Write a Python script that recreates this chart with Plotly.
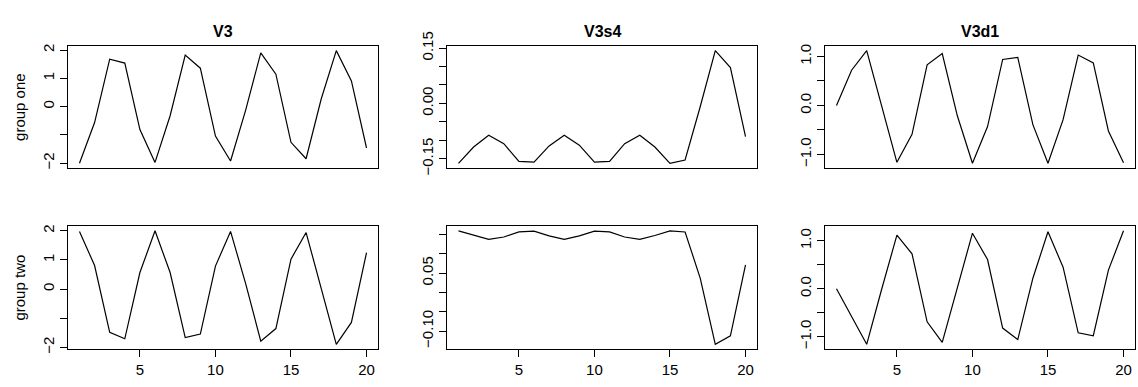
import plotly.graph_objects as go

x = list(range(1, 21))

v3_one = [-2.0, -0.56, 1.68, 1.54, -0.81, -1.97, -0.32, 1.82, 1.36, -1.04,
          -1.92, -0.12, 1.90, 1.15, -1.26, -1.84, 0.27, 1.98, 0.91, -1.46]
v3_two = [1.98, 0.81, -1.48, -1.70, 0.57, 2.0, 0.57, -1.66, -1.54, 0.79,
          1.98, 0.19, -1.78, -1.35, 1.03, 1.94, 0.03, -1.89, -1.14, 1.25]
v3s4_one = [-0.162, -0.118, -0.086, -0.109, -0.157, -0.159, -0.115, -0.086, -0.113, -0.159,
            -0.157, -0.109, -0.086, -0.118, -0.162, -0.153, -0.009, 0.143, 0.097, -0.090]
v3s4_two = [0.159, 0.147, 0.137, 0.143, 0.156, 0.158, 0.146, 0.137, 0.146, 0.158,
            0.156, 0.143, 0.137, 0.147, 0.159, 0.156, 0.037, -0.134, -0.112, 0.071]
v3d1_one = [0.0, 0.72, 1.12, -0.02, -1.16, -0.59, 0.83, 1.06, -0.21, -1.18,
            -0.43, 0.94, 0.98, -0.39, -1.18, -0.29, 1.03, 0.87, -0.52, -1.17]
v3d1_two = [0.0, -0.57, -1.16, 0.0, 1.12, 0.73, -0.69, -1.12, 0.02, 1.16,
            0.61, -0.82, -1.06, 0.22, 1.19, 0.45, -0.92, -0.98, 0.39, 1.21]

col_titles = ["V3", "V3s4", "V3d1"]
row_titles = ["group one", "group two"]

x_ticks = [5, 10, 15, 20]
x_ticktext = ["5", "10", "15", "20"]

# y ticks per panel (row, col): values and shown labels
y_ticks = {
    (0, 0): ([-2, -1, 0, 1, 2], ["−2", "", "0", "1", "2"]),
    (1, 0): ([-2, -1, 0, 1, 2], ["−2", "", "0", "1", "2"]),
    (0, 1): ([-0.15, -0.10, -0.05, 0.0, 0.05, 0.10, 0.15], ["−0.15", "", "", "0.00", "", "", "0.15"]),
    (1, 1): ([-0.10, -0.05, 0.0, 0.05, 0.10, 0.15], ["−0.10", "", "", "0.05", "", ""]),
    (0, 2): ([-1.0, -0.5, 0.0, 0.5, 1.0], ["−1.0", "", "0.0", "", "1.0"]),
    (1, 2): ([-1.0, -0.5, 0.0, 0.5, 1.0], ["−1.0", "", "0.0", "", "1.0"]),
}

series = {
    (0, 0): v3_one, (0, 1): v3s4_one, (0, 2): v3d1_one,
    (1, 0): v3_two, (1, 1): v3s4_two, (1, 2): v3d1_two,
}

W, H = 1138, 387
col_px = [(68, 378), (447, 757), (825, 1135)]
row_px = [(33, 162), (224, 354)]  # top, bottom in pixels from top

FONT = "Liberation Sans, Arial, Helvetica, sans-serif"
TICK = 15

fig = go.Figure()
layout = dict(
    width=W, height=H,
    margin=dict(l=0, r=0, t=0, b=0),
    paper_bgcolor="white", plot_bgcolor="white",
    showlegend=False,
    font=dict(family=FONT, size=TICK, color="black"),
)
annotations = []

idx = 0
for r in range(2):
    for c in range(3):
        idx += 1
        sfx = "" if idx == 1 else str(idx)
        vals = series[(r, c)]
        fig.add_trace(go.Scatter(x=x, y=vals, mode="lines",
                                 line=dict(color="black", width=1.2),
                                 xaxis="x" + sfx, yaxis="y" + sfx,
                                 hoverinfo="skip"))
        x0, x1 = col_px[c]
        t, b = row_px[r]
        xd = [x0 / W, x1 / W]
        yd = [(H - b) / H, (H - t) / H]
        xr = (max(x) - min(x)) * 0.04
        ymin, ymax = min(vals), max(vals)
        yr = (ymax - ymin) * 0.04
        tv, tt = y_ticks[(r, c)]
        xa = dict(domain=xd, range=[min(x) - xr, max(x) + xr],
                  showgrid=False, zeroline=False,
                  showline=True, mirror=True, linecolor="black", linewidth=1,
                  anchor="y" + sfx)
        if r == 1:
            xa.update(tickmode="array", tickvals=x_ticks, ticktext=x_ticktext,
                      ticks="outside", ticklen=7, tickwidth=1, tickcolor="black",
                      tickfont=dict(size=TICK, family=FONT))
        else:
            xa.update(showticklabels=False, ticks="")
        ya = dict(domain=yd, range=[ymin - yr, ymax + yr],
                  showgrid=False, zeroline=False,
                  showline=True, mirror=True, linecolor="black", linewidth=1,
                  tickmode="array", tickvals=tv, ticktext=tt,
                  ticks="outside", ticklen=7, tickwidth=1, tickcolor="black",
                  tickangle=-90, tickfont=dict(size=TICK, family=FONT),
                  anchor="x" + sfx)
        layout["xaxis" + sfx] = xa
        layout["yaxis" + sfx] = ya
        if r == 0:
            annotations.append(dict(text="<b>" + col_titles[c] + "</b>", xref="paper", yref="paper",
                                    x=(x0 + x1) / 2 / W, y=(H - 18) / H,
                                    xanchor="center", yanchor="middle", showarrow=False,
                                    font=dict(size=16, family=FONT, color="black")))
        if c == 0:
            annotations.append(dict(text=row_titles[r], xref="paper", yref="paper",
                                    x=20 / W, y=(H - (t + b) / 2) / H, textangle=-90,
                                    xanchor="center", yanchor="middle", showarrow=False,
                                    font=dict(size=TICK, family=FONT, color="black")))

layout["annotations"] = annotations
fig.update_layout(**layout)
fig.write_html("out.html", config={"displayModeBar": False, "staticPlot": True},
               post_script="document.body.style.margin='0';document.body.style.overflow='hidden';")
